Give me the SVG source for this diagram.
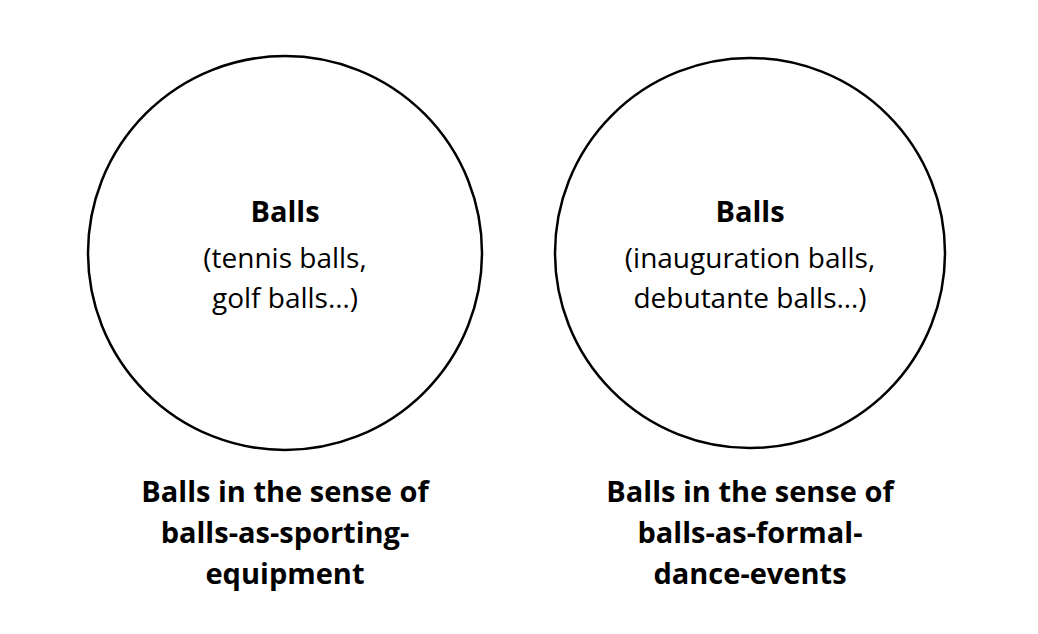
<svg xmlns="http://www.w3.org/2000/svg" width="1038" height="634" viewBox="0 0 1038 634">
<style>
text{font-family:"Open Sans","Liberation Sans",sans-serif;fill:#000;text-anchor:middle}
.t{font-weight:bold;font-size:29px}
.s{font-size:28px}
.c{fill:#fff;stroke:#000;stroke-width:2.5}
</style>
<rect width="1038" height="634" fill="#fff"/>
<g id="left">
<circle class="c" cx="285" cy="253" r="197"/>
<text class="t" x="285" y="222">Balls</text>
<text class="s" x="285" y="268">(tennis balls,</text>
<text class="s" x="285" y="308">golf balls…)</text>
<text class="t" x="285" y="502">Balls in the sense of</text>
<text class="t" x="285" y="543">balls-as-sporting-</text>
<text class="t" x="285" y="584">equipment</text>
</g>
<g id="right">
<circle class="c" cx="750" cy="253" r="195"/>
<text class="t" x="750" y="222">Balls</text>
<text class="s" x="750" y="268">(inauguration balls,</text>
<text class="s" x="750" y="308">debutante balls…)</text>
<text class="t" x="750" y="502">Balls in the sense of</text>
<text class="t" x="750" y="543">balls-as-formal-</text>
<text class="t" x="750" y="584">dance-events</text>
</g>
<g id="connectors"/>
</svg>
